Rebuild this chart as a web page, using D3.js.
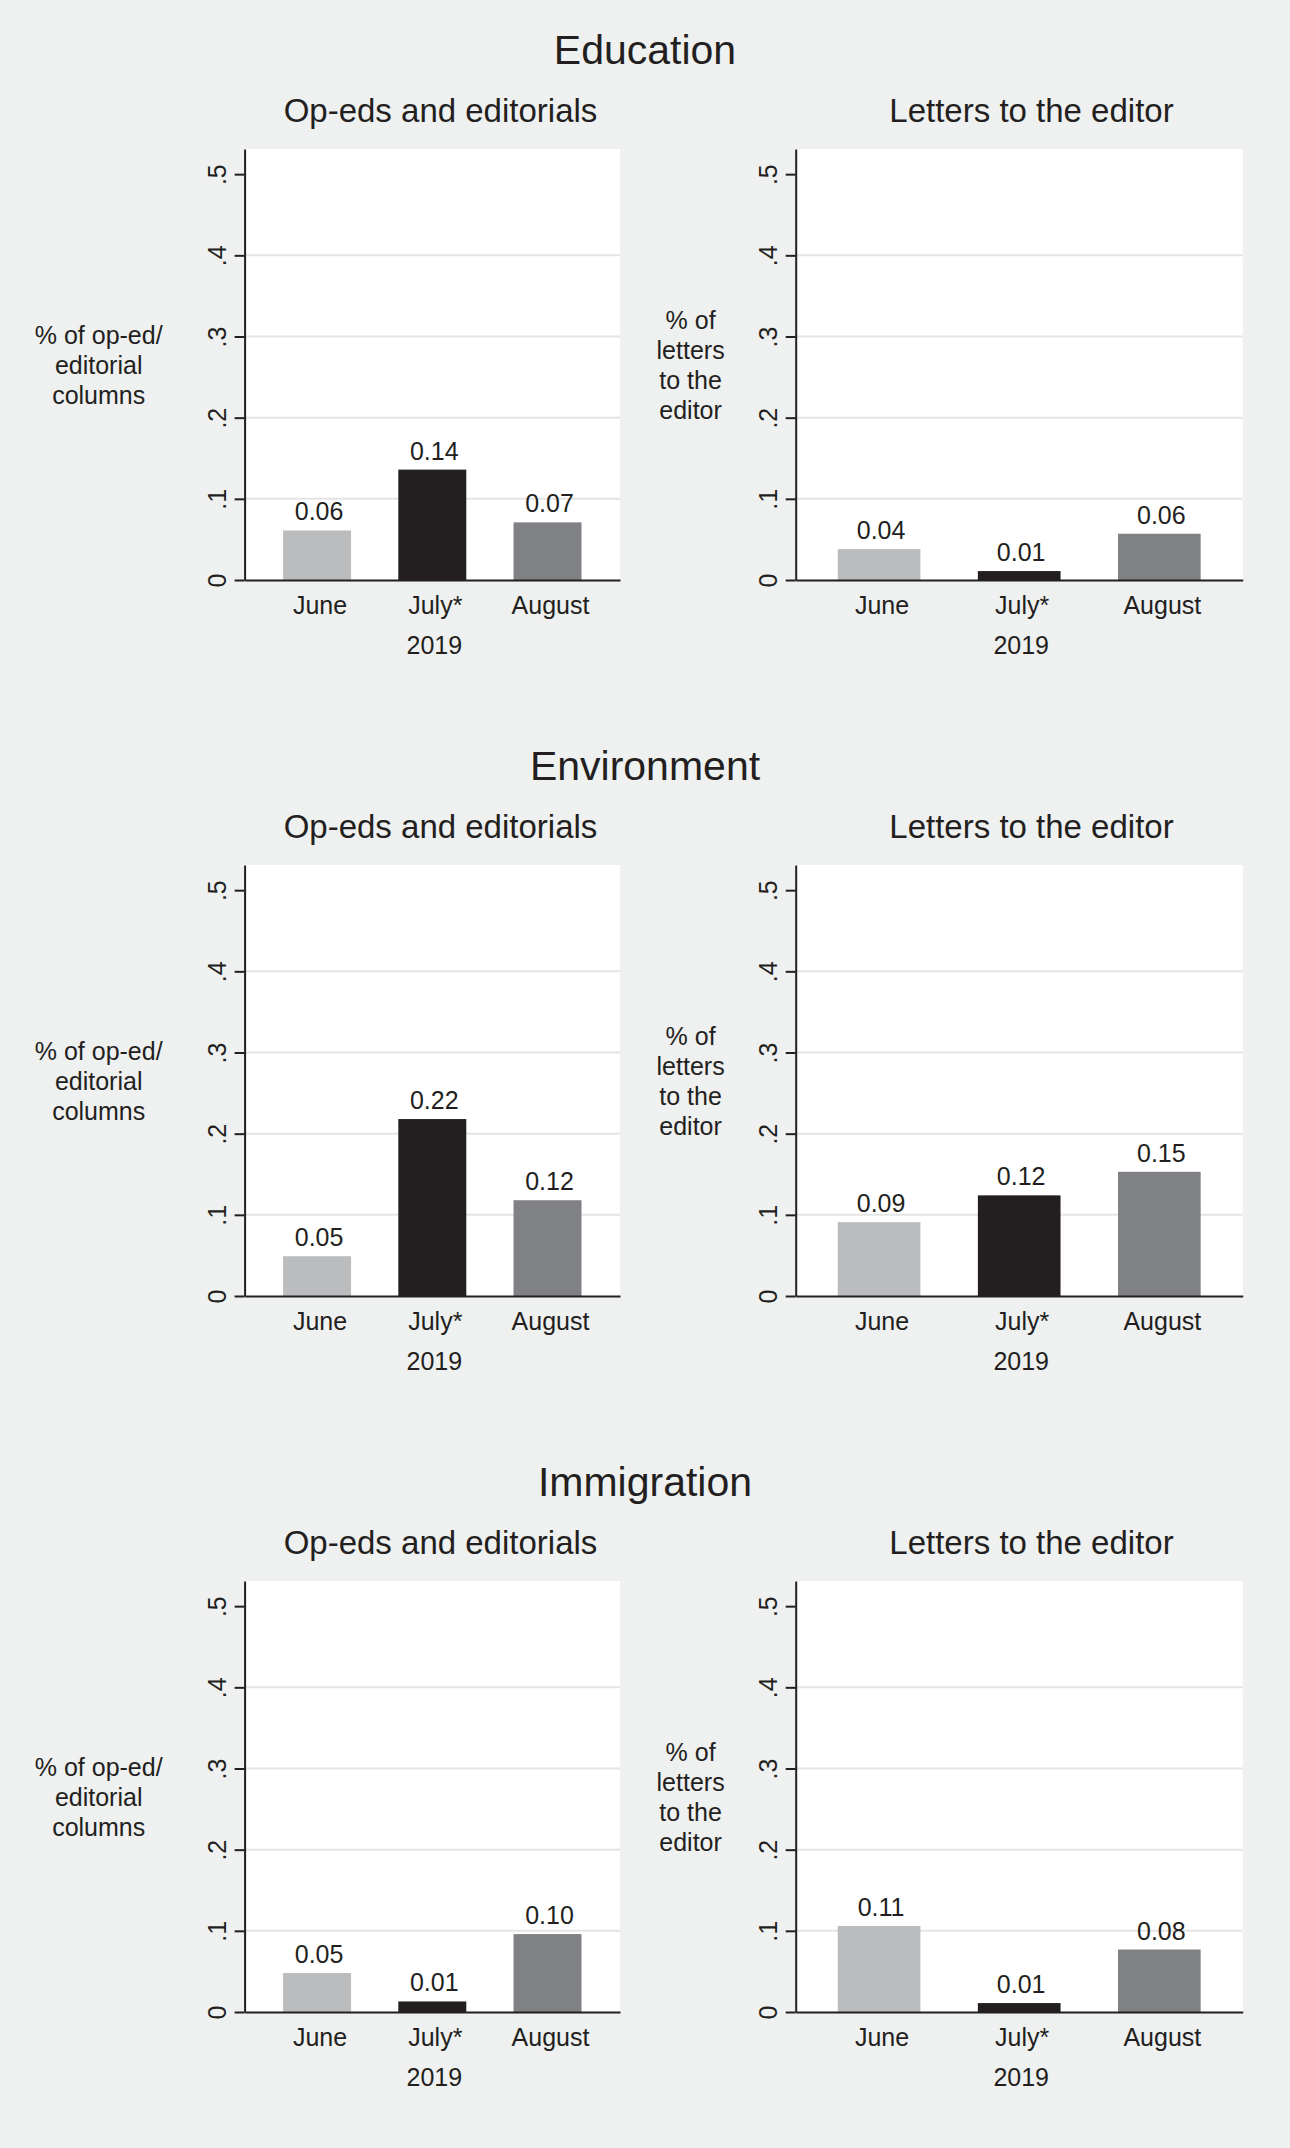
<!DOCTYPE html>
<html>
<head>
<meta charset="utf-8">
<script src="https://cdn.jsdelivr.net/npm/d3@7"></script>
<style>
  body { margin: 0; background: #eff0f0; }
  svg { display: block; }
  text { font-family: "Liberation Sans", Arial, Helvetica, sans-serif; fill: #231f20; }
</style>
</head>
<body>
<svg id="chart"></svg>
<script>
// values
const topics = ["Education", "Environment", "Immigration"];
const panelTitles = ["Op-eds and editorials", "Letters to the editor"];
const months = ["June", "July*", "August"];
const opedShares = [
  [0.061, 0.136, 0.071],
  [0.049, 0.218, 0.118],
  [0.048, 0.013, 0.096]
];
const letterShares = [
  [0.038, 0.011, 0.057],
  [0.091, 0.124, 0.153],
  [0.106, 0.011, 0.077]
];
const yTicks = [0, 0.1, 0.2, 0.3, 0.4, 0.5];
const yTickLabels = ["0", ".1", ".2", ".3", ".4", ".5"];
const yTitles = [
  ["% of op-ed/", "editorial", "columns"],
  ["% of", "letters", "to the", "editor"]
];
const xTitle = "2019";
const monthColors = ["#bbbcbe", "#231f20", "#808184"];

document.addEventListener('DOMContentLoaded', function() {
  const W = 1290, H = 2148;
  const rowStep = 716;
  const plotTop = 149, plotBottom = 580;
  const ink = "#231f20";

  // horizontal layout of the two panels in each row
  const panels = [
    { x0: 244.6, x1: 620, padOuter: 0.334, subX: 440.5, titleX: 98.7 },
    { x0: 795.7, x1: 1242.7, padOuter: 0.30, subX: 1031.5, titleX: 690.6 }
  ];

  const svg = d3.select("#chart")
      .attr("width", W)
      .attr("height", H);

  svg.append("rect")
      .attr("width", W)
      .attr("height", H)
      .attr("fill", "#eff0f0");

  topics.forEach(function(topic, r) {
    const row = svg.append("g")
        .attr("transform", `translate(0,${r * rowStep})`);

    row.append("text")
        .attr("x", 645)
        .attr("y", 64)
        .attr("text-anchor", "middle")
        .style("font-size", "41px")
        .text(topic);

    const seriesList = [opedShares[r], letterShares[r]];

    panels.forEach(function(p, k) {
      const values = seriesList[k];
      const data = months.map((m, i) => ({ month: m, value: values[i], color: monthColors[i] }));

      const x = d3.scaleBand()
          .domain(months)
          .range([p.x0, p.x1])
          .paddingInner(0.41)
          .paddingOuter(p.padOuter);
      const y = d3.scaleLinear()
          .domain([0, 0.531])
          .range([plotBottom, plotTop]);

      const g = row.append("g");

      g.append("text")
          .attr("x", p.subX)
          .attr("y", 122)
          .attr("text-anchor", "middle")
          .style("font-size", "33px")
          .text(panelTitles[k]);

      g.append("rect")
          .attr("x", p.x0)
          .attr("y", plotTop)
          .attr("width", p.x1 - p.x0)
          .attr("height", plotBottom - plotTop)
          .attr("fill", "#ffffff");

      g.selectAll(".grid")
          .data(yTicks.filter(t => t > 0 && t < 0.5))
        .enter().append("line")
          .attr("class", "grid")
          .attr("x1", p.x0)
          .attr("x2", p.x1)
          .attr("y1", d => y(d))
          .attr("y2", d => y(d))
          .attr("stroke", "#e4e4e4")
          .attr("stroke-width", 2);

      g.selectAll(".bar")
          .data(data)
        .enter().append("rect")
          .attr("class", "bar")
          .attr("x", d => x(d.month))
          .attr("width", x.bandwidth())
          .attr("y", d => y(d.value))
          .attr("height", d => y(0) - y(d.value))
          .attr("fill", d => d.color);

      g.selectAll(".val")
          .data(data)
        .enter().append("text")
          .attr("class", "val")
          .attr("x", d => x(d.month) + x.bandwidth() / 2 + 2)
          .attr("y", d => y(d.value) - 10)
          .attr("text-anchor", "middle")
          .style("font-size", "25px")
          .text(d => d3.format(".2f")(d.value));

      // y axis with rotated labels
      const yAxis = g.append("g")
          .attr("transform", `translate(${p.x0},0)`)
          .call(d3.axisLeft(y)
            .tickValues(yTicks)
            .tickSize(10)
            .tickSizeOuter(0)
            .tickFormat((d, i) => yTickLabels[i]));
      yAxis.selectAll("text")
          .attr("x", 0)
          .attr("dy", 0)
          .attr("text-anchor", "middle")
          .attr("transform", "translate(-19,0) rotate(-90)")
          .style("font-size", "25px")
          .attr("fill", ink);

      // x axis
      const xAxis = g.append("g")
          .attr("transform", `translate(0,${plotBottom})`)
          .call(d3.axisBottom(x).tickSize(0).tickSizeOuter(0).tickPadding(16));
      xAxis.selectAll("text")
          .attr("dx", 3)
          .style("font-size", "25px")
          .attr("fill", ink);

      [yAxis, xAxis].forEach(function(a) {
        a.select(".domain").attr("stroke", ink).attr("stroke-width", 2);
        a.selectAll(".tick line").attr("stroke", ink).attr("stroke-width", 2);
      });

      g.append("text")
          .attr("x", (p.x0 + p.x1) / 2 + 2)
          .attr("y", 654)
          .attr("text-anchor", "middle")
          .style("font-size", "25px")
          .text(xTitle);

      // multi-line y title, centred on the plot area
      const lines = yTitles[k];
      const mid = (plotTop + plotBottom) / 2 + 9;
      g.append("text")
          .attr("text-anchor", "middle")
          .style("font-size", "25px")
        .selectAll("tspan")
          .data(lines)
        .enter().append("tspan")
          .attr("x", p.titleX)
          .attr("y", (d, i) => mid + (i - (lines.length - 1) / 2) * 30)
          .text(d => d);
    });
  });
});
</script>
</body>
</html>
